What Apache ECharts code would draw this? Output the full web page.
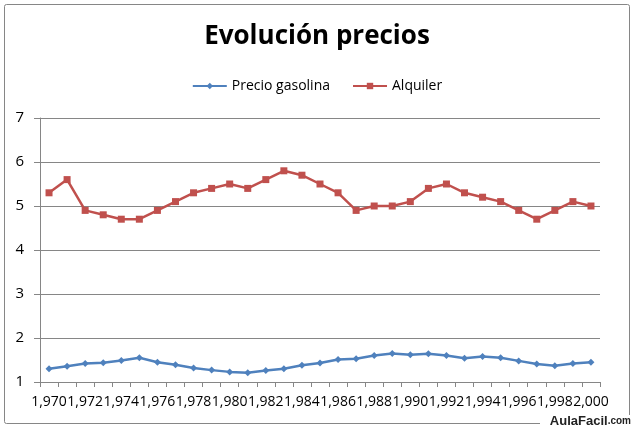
<!DOCTYPE html>
<html>
<head>
<meta charset="utf-8">
<script src="https://cdn.jsdelivr.net/npm/echarts@6/dist/echarts.min.js"></script>
<style>html,body{margin:0;padding:0;background:#fff}#c{width:634px;height:429px}</style>
</head>
<body>
<div id="c"></div>
<script>
var years = [1970,1971,1972,1973,1974,1975,1976,1977,1978,1979,1980,1981,1982,1983,1984,1985,1986,1987,1988,1989,1990,1991,1992,1993,1994,1995,1996,1997,1998,1999,2000];
var gasolina = [1.30,1.36,1.42,1.44,1.49,1.55,1.45,1.39,1.32,1.27,1.23,1.21,1.26,1.30,1.38,1.43,1.51,1.53,1.60,1.65,1.62,1.64,1.60,1.54,1.58,1.55,1.48,1.41,1.37,1.42,1.45];
var alquiler = [5.3,5.6,4.9,4.8,4.7,4.7,4.9,5.1,5.3,5.4,5.5,5.4,5.6,5.8,5.7,5.5,5.3,4.9,5.0,5.0,5.1,5.4,5.5,5.3,5.2,5.1,4.9,4.7,4.9,5.1,5.0];
var yTicks = [1,2,3,4,5,6,7];

var chart = echarts.init(document.getElementById('c'), null, {renderer:'canvas'});
chart.setOption({
  backgroundColor:'#fff',
  animation:false,
  title:{text:'Evolución precios', left:'center', top:19,
    textStyle:{fontFamily:"'Open Sans', sans-serif", fontWeight:'bold', fontSize:26, color:'#000'}},
  legend:{top:74, left:'center', itemGap:22, itemWidth:34, itemHeight:8,
    textStyle:{fontFamily:"'Open Sans', sans-serif", fontSize:14, color:'#000'},
    data:['Precio gasolina','Alquiler']},
  grid:{left:40, right:34, top:118, bottom:47},
  xAxis:{type:'category', data:years, boundaryGap:true,
    axisLine:{lineStyle:{color:'#868686', width:1}},
    axisTick:{show:true, interval:0, length:5, lineStyle:{color:'#868686'}},
    axisLabel:{interval:1, showMinLabel:true, showMaxLabel:true, hideOverlap:false,
      color:'#000', fontSize:14, margin:13, fontFamily:"'Open Sans', sans-serif",
      formatter:function(v){ v=String(v); return v.slice(0,1)+','+v.slice(1); }},
    splitLine:{show:false}},
  yAxis:{type:'value', min:yTicks[0], max:yTicks[yTicks.length-1], interval:1,
    axisLine:{show:true, lineStyle:{color:'#868686'}},
    axisTick:{show:true, length:6, lineStyle:{color:'#868686'}},
    axisLabel:{color:'#000', fontSize:15, margin:16, fontFamily:"'Open Sans', sans-serif"},
    splitLine:{show:true, lineStyle:{color:'#868686', width:1}}},
  series:[
    {name:'Precio gasolina', type:'line', data:gasolina, symbol:'diamond', symbolSize:7,
      itemStyle:{color:'#4F81BD'}, lineStyle:{color:'#4F81BD', width:2.5}},
    {name:'Alquiler', type:'line', data:alquiler, symbol:'rect', symbolSize:7,
      itemStyle:{color:'#C0504D'}, lineStyle:{color:'#C0504D', width:2.5}}
  ],
  graphic:[
    {type:'rect', shape:{x:4.5, y:4.5, width:625, height:419, r:2}, style:{fill:null, stroke:'#868686', lineWidth:1}, z:-1},
    {type:'rect', shape:{x:540, y:415, width:94, height:14}, style:{fill:'#fff'}, z:1},
    {type:'text', right:3, bottom:1, z:2,
      style:{text:'{a|AulaFacil}{b|.com}', rich:{
        a:{fill:'#222', font:"bold 13px 'Liberation Sans', sans-serif"},
        b:{fill:'#222', font:"bold 10px 'Liberation Sans', sans-serif"}}}}
  ]
});
</script>
</body>
</html>
